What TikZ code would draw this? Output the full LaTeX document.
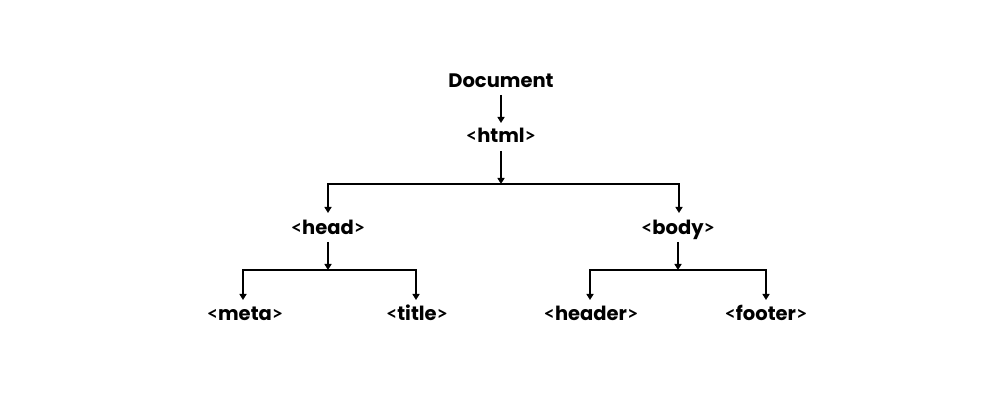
\documentclass[tikz,border=0pt]{standalone}
\usepackage{fontspec}
\setmainfont{Poppins}[BoldFont={* Bold}]
\newfontfamily\angf{Lato}[BoldFont={* Bold}]
\newcommand{\lt}{{\angf\char`\<}}
\newcommand{\gt}{{\angf\char`\>}}
\usetikzlibrary{arrows.meta}
\begin{document}
\begin{tikzpicture}[x=1pt,y=-1pt,
  lbl/.style={font=\fontsize{19.5}{22}\selectfont\bfseries, inner sep=0pt, text=black, anchor=base},
  conn/.style={line width=1.6pt, black},
  arr/.style={conn, -{Triangle[length=6pt,width=7pt]}}]
\useasboundingbox[fill=white] (0,0) rectangle (1000,419);
\node[lbl] (doc) at (501,87.3) {Document};
\node[lbl] (html) at (501,143) {\lt html\gt};
\node[lbl] (head) at (328,234.3) {\lt head\gt};
\node[lbl] (body) at (678,234.3) {\lt body\gt};
\node[lbl] (meta) at (245,320.7) {\lt meta\gt};
\node[lbl] (title) at (417,320.7) {\lt title\gt};
\node[lbl] (header) at (591,320.7) {\lt header\gt};
\node[lbl] (footer) at (766,320.7) {\lt footer\gt};
% junction coordinates
\coordinate (s0) at (501,95);
\coordinate (t0) at (501,123);
\coordinate (s1) at (501,151);
\coordinate (j1) at (501,184);
\coordinate (j1l) at (328,184);
\coordinate (j1r) at (679,184);
\coordinate (s2) at (328,242);
\coordinate (j2) at (328,270);
\coordinate (j2l) at (243,270);
\coordinate (j2r) at (416,270);
\coordinate (s3) at (678,242);
\coordinate (j3) at (678,270);
\coordinate (j3l) at (590,270);
\coordinate (j3r) at (766,270);
% arrow tip targets just above the labels
\coordinate (thead) at (328,213);
\coordinate (tbody) at (679,213);
\coordinate (tmeta) at (243,300);
\coordinate (ttitle) at (416,300);
\coordinate (theader) at (590,300);
\coordinate (tfooter) at (766,300);
\draw[arr] (s0) -- (t0);
\draw[arr] (s1) -- (j1);
\draw[conn] (j1l) -- (j1r);
\draw[arr] ([yshift=0.8pt]j1l) -- (thead);
\draw[arr] ([yshift=0.8pt]j1r) -- (tbody);
\draw[arr] (s2) -- (j2);
\draw[conn] (j2l) -- (j2r);
\draw[arr] ([yshift=0.8pt]j2l) -- (tmeta);
\draw[arr] ([yshift=0.8pt]j2r) -- (ttitle);
\draw[arr] (s3) -- (j3);
\draw[conn] (j3l) -- (j3r);
\draw[arr] ([yshift=0.8pt]j3l) -- (theader);
\draw[arr] ([yshift=0.8pt]j3r) -- (tfooter);
\end{tikzpicture}
\end{document}
